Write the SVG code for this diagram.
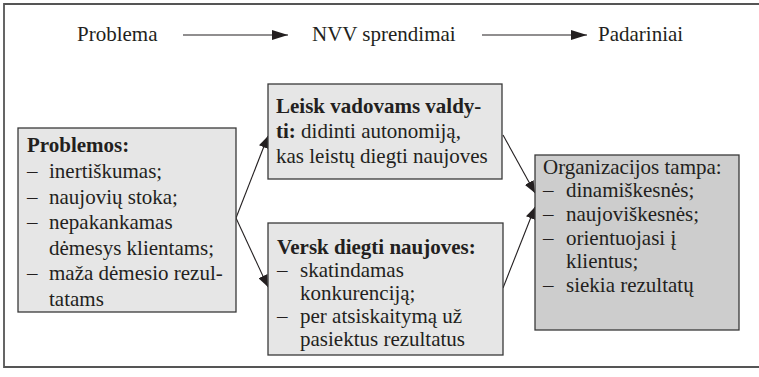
<svg xmlns="http://www.w3.org/2000/svg" width="759" height="377" viewBox="0 0 759 377">
<style>
text{font-family:"Liberation Serif","Times New Roman",serif;font-size:21px;fill:#231f20}
.b{font-weight:bold}
.box{fill:#e6e6e6;stroke:#3a3a3a;stroke-width:1.3}
.dark{fill:#cdcdcd}
.ln{stroke:#231f20;stroke-width:1.1;fill:none}
.frame{stroke:#555;stroke-width:1.8;fill:none}
</style>
<defs>
<marker id="ah" viewBox="0 0 12 10" refX="12" refY="5" markerWidth="12" markerHeight="10" markerUnits="userSpaceOnUse" orient="auto">
<path d="M0,0 L12,5 L0,10 Z" fill="#231f20"/>
</marker>
<marker id="ht" viewBox="0 0 16 10" refX="16" refY="5" markerWidth="16" markerHeight="10" markerUnits="userSpaceOnUse" orient="auto">
<path d="M0,0 L16,5 L0,10 Z" fill="#231f20"/>
</marker>
</defs>
<path class="frame" d="M760,4 H4 V367 H760"/>
<g id="header">
<text x="77" y="41">Problema</text>
<text x="312" y="41">NVV sprendimai</text>
<text x="598" y="41">Padariniai</text>
</g>
<g id="connectors">
<line class="ln" x1="183" y1="35" x2="288" y2="35" marker-end="url(#ht)"/>
<line class="ln" x1="482" y1="35" x2="587" y2="35" marker-end="url(#ht)"/>
<line class="ln" x1="236" y1="218" x2="268" y2="136" marker-end="url(#ah)"/>
<line class="ln" x1="236" y1="218" x2="268" y2="287" marker-end="url(#ah)"/>
<line class="ln" x1="503" y1="135" x2="535" y2="193" marker-end="url(#ah)"/>
<line class="ln" x1="503" y1="288" x2="535" y2="207" marker-end="url(#ah)"/>
</g>
<g id="problemos">
<rect class="box" x="18" y="128" width="218" height="184"/>
<text class="b" x="27" y="152">Problemos:</text>
<text x="27" y="178">–</text><text x="49" y="178">inertiškumas;</text>
<text x="27" y="204">–</text><text x="49" y="204">naujovių stoka;</text>
<text x="27" y="229">–</text><text x="49" y="229">nepakankamas</text>
<text x="49" y="255">dėmesys klientams;</text>
<text x="27" y="280">–</text><text x="49" y="280">maža dėmesio rezul-</text>
<text x="49" y="306">tatams</text>
</g>
<g id="leisk">
<rect class="box" x="268" y="84" width="234" height="95"/>
<text x="276" y="113" class="b">Leisk vadovams valdy-</text>
<text x="276" y="138"><tspan class="b">ti:</tspan> didinti autonomiją,</text>
<text x="276" y="163">kas leistų diegti naujoves</text>
</g>
<g id="versk">
<rect class="box" x="268" y="223" width="235" height="132"/>
<text class="b" x="277" y="254">Versk diegti naujoves:</text>
<text x="277" y="277">–</text><text x="300" y="277">skatindamas</text>
<text x="300" y="300">konkurenciją;</text>
<text x="277" y="323">–</text><text x="300" y="323">per atsiskaitymą už</text>
<text x="300" y="346">pasiektus rezultatus</text>
</g>
<g id="organizacijos">
<rect class="box dark" x="535" y="155" width="204" height="175"/>
<text x="543" y="174">Organizacijos tampa:</text>
<text x="543" y="197">–</text><text x="566" y="197">dinamiškesnės;</text>
<text x="543" y="221">–</text><text x="566" y="221">naujoviškesnės;</text>
<text x="543" y="245">–</text><text x="566" y="245">orientuojasi į</text>
<text x="566" y="268">klientus;</text>
<text x="543" y="292">–</text><text x="566" y="292">siekia rezultatų</text>
</g>
</svg>
